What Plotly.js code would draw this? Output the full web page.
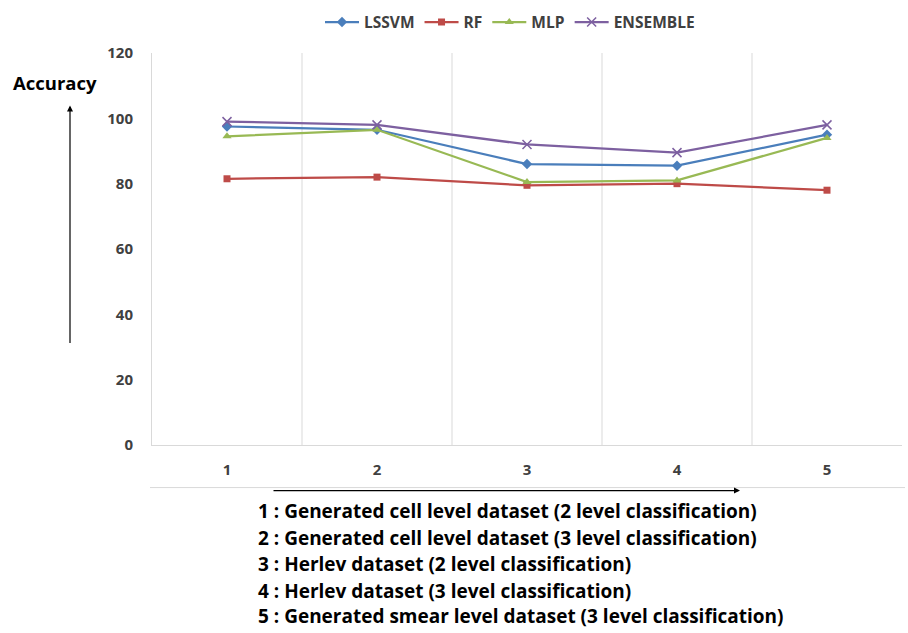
<!DOCTYPE html>
<html>
<head>
<meta charset="utf-8">
<script src="https://cdn.plot.ly/plotly-3.0.1.min.js"></script>
<style>html,body{margin:0;padding:0;background:#fff;}#chart{width:908px;height:633px;}</style>
</head>
<body>
<div id="chart"></div>
<script>
const categories = [1, 2, 3, 4, 5];
const tickLabels = ["1", "2", "3", "4", "5"];
const lssvm = [97.5, 96.5, 86, 85.5, 95];
const rf = [81.5, 82, 79.5, 80, 78];
const mlp = [94.5, 96.5, 80.5, 81, 94];
const ensemble = [99, 98, 92, 89.5, 98];
const yTicks = [0, 20, 40, 60, 80, 100, 120];
const descriptions = [
  "1 : Generated cell level dataset (2 level classification)",
  "2 : Generated cell level dataset (3 level classification)",
  "3 : Herlev dataset (2 level classification)",
  "4 : Herlev dataset (3 level classification)",
  "5 : Generated smear level dataset (3 level classification)"
];

const FONT = "Open Sans, Lato, Liberation Sans, sans-serif";
const L = 152, R = 902, T = 49, B = 445;
const W = R - L, H = B - T;
const px = x => (x - L) / W;
const py = y => 1 - (y - T) / H;

const traces = [
  {name: "LSSVM", y: lssvm, color: "#4a7ebb", symbol: "diamond", size: 8},
  {name: "RF", y: rf, color: "#be4b48", symbol: "square", size: 7},
  {name: "MLP", y: mlp, color: "#98b954", symbol: "triangle-up", size: 8},
  {name: "ENSEMBLE", y: ensemble, color: "#7d60a0", symbol: "x-thin-open", size: 9}
].map(s => ({
  type: "scatter", mode: "lines+markers", name: s.name,
  x: categories, y: s.y,
  line: {color: s.color, width: 2.25},
  marker: {color: s.color, symbol: s.symbol, size: s.size, line: {color: s.color, width: s.symbol === "x-thin-open" ? 1.5 : 0}}
}));

const shapes = [];
[1.5, 2.5, 3.5, 4.5].forEach(v => shapes.push({type: "line", xref: "x", yref: "paper", x0: v, x1: v, y0: 0, y1: 1, line: {color: "#d9d9d9", width: 1}, layer: "below"}));
shapes.push({type: "line", xref: "paper", yref: "paper", x0: px(150), x1: px(905), y0: py(488), y1: py(488), line: {color: "#d9d9d9", width: 1}});

const annotations = [
  {xref: "paper", yref: "paper", x: px(11), y: py(79), xanchor: "left", yanchor: "middle", text: "<b>Accuracy</b>", showarrow: false, font: {family: FONT, size: 18.5, color: "#000"}},
  {xref: "paper", yref: "paper", x: px(70), y: py(102), text: "", showarrow: true, ax: 0, ay: 239, arrowhead: 2, arrowsize: 1, arrowwidth: 1.2, arrowcolor: "#000"},
  {xref: "paper", yref: "paper", x: px(740), y: py(491), text: "", showarrow: true, ax: -468, ay: 0, arrowhead: 2, arrowsize: 1, arrowwidth: 1.2, arrowcolor: "#000"}
];
const descY = [512, 539, 565, 592, 618];
descriptions.forEach((t, i) => annotations.push({
  xref: "paper", yref: "paper", x: px(256), y: py(descY[i]), xanchor: "left", yanchor: "middle",
  text: "<b>" + t + "</b>", showarrow: false, font: {family: FONT, size: 19, color: "#000"}
}));

const layout = {
  width: 908, height: 633,
  margin: {l: L, r: 908 - R, t: T, b: 633 - B, pad: 0},
  paper_bgcolor: "#fff", plot_bgcolor: "#fff",
  font: {family: FONT, color: "#404040"},
  showlegend: true,
  legend: {orientation: "h", x: px(510), xanchor: "center", y: py(1), yanchor: "top", font: {family: FONT, size: 15.5, color: "#404040", weight: "bold"}, itemwidth: 34, tracegroupgap: 0},
  xaxis: {
    range: [0.5, 5.5], tickvals: categories, ticktext: tickLabels.map(t => "<b>" + t + "</b>"),
    showgrid: false, zeroline: false, showline: true, linecolor: "#d9d9d9", linewidth: 1,
    ticks: "outside", ticklen: 11, tickcolor: "rgba(0,0,0,0)",
    tickfont: {family: FONT, size: 15, color: "#404040"}, fixedrange: true
  },
  yaxis: {
    range: [0, 120], tickvals: yTicks, ticktext: yTicks.map(t => "<b>" + t + "</b>"),
    showgrid: false, zeroline: false, showline: true, linecolor: "#d9d9d9", linewidth: 1,
    ticks: "outside", ticklen: 15, tickcolor: "rgba(0,0,0,0)",
    tickfont: {family: FONT, size: 15, color: "#404040"}, fixedrange: true
  },
  shapes: shapes,
  annotations: annotations
};

Plotly.newPlot("chart", traces, layout, {displayModeBar: false, staticPlot: true});
</script>
</body>
</html>
